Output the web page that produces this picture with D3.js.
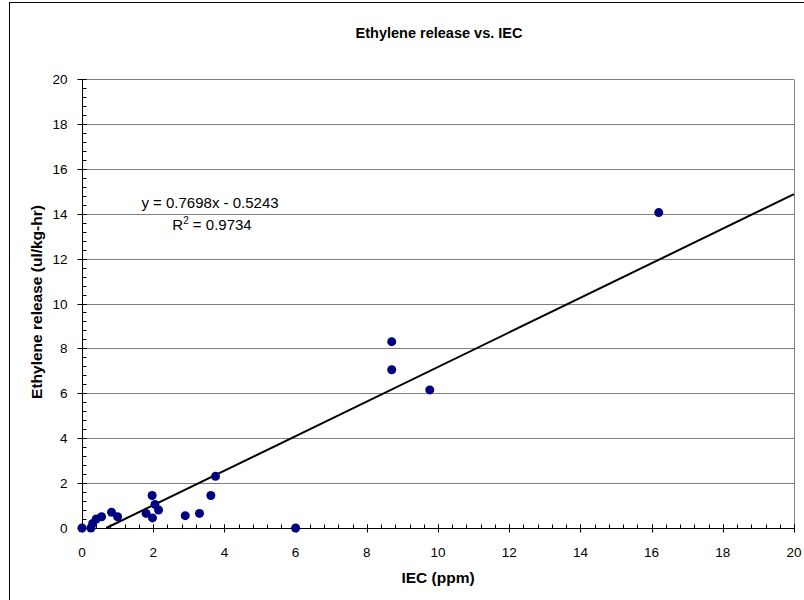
<!DOCTYPE html>
<html>
<head>
<meta charset="utf-8">
<script src="https://cdn.jsdelivr.net/npm/d3@7"></script>
<style>
  body { margin: 0; background: #fff; }
  text { font-family: Arial, "Liberation Sans", sans-serif; }
</style>
</head>
<body>
<div id="chart"></div>
<script>
// IEC (ppm) vs ethylene release (ul/kg-hr)
const iecValues = [0, 0.25, 0.3, 0.4, 0.55, 0.83, 1.0, 1.8, 1.97, 2.05, 1.98, 2.15, 2.9, 3.3, 3.62, 3.75, 6.0, 8.7, 8.7, 9.77, 16.2];
const ethyleneValues = [0, 0, 0.2, 0.4, 0.5, 0.7, 0.5, 0.65, 1.45, 1.05, 0.45, 0.8, 0.55, 0.65, 1.45, 2.3, 0, 8.3, 7.05, 6.15, 14.05];
const xTicks = [0, 2, 4, 6, 8, 10, 12, 14, 16, 18, 20];
const yTicks = [0, 2, 4, 6, 8, 10, 12, 14, 16, 18, 20];
const trendSlope = 0.7698;
const trendIntercept = -0.5243;
const r2 = '0.9734';

const drawChart = () => {
  let width = 804;
  let height = 600;
  let margin = { top: 79, left: 82, right: 10, bottom: 72 };

  let svg = d3
    .select('#chart')
    .append('svg')
    .attr('width', width)
    .attr('height', height);

  // outer chart frame
  svg
    .append('rect')
    .attr('x', 9.5)
    .attr('y', 2.5)
    .attr('width', 820)
    .attr('height', 620)
    .attr('fill', 'white')
    .attr('stroke', 'black')
    .attr('stroke-width', 1);

  let x = d3.scaleLinear().domain([0, 20]).range([margin.left, width - margin.right]);
  let y = d3.scaleLinear().domain([0, 20]).range([height - margin.bottom, margin.top]);

  // gridlines
  svg
    .selectAll('.grid')
    .data(yTicks.filter((d) => d > 0))
    .enter()
    .append('line')
    .attr('class', 'grid')
    .attr('x1', x(0))
    .attr('x2', x(20))
    .attr('y1', (d) => Math.round(y(d)) + 0.5)
    .attr('y2', (d) => Math.round(y(d)) + 0.5)
    .attr('stroke', '#808080');

  // plot area right border
  svg
    .append('line')
    .attr('x1', Math.round(x(20)) + 0.5)
    .attr('x2', Math.round(x(20)) + 0.5)
    .attr('y1', Math.round(y(20)) + 0.5)
    .attr('y2', Math.round(y(0)) + 0.5)
    .attr('stroke', '#808080');

  // minor ticks every 0.4
  let minor = d3.range(0, 20.001, 0.4).map((d) => +d.toFixed(1));

  let xAxis = svg.append('g').attr('transform', `translate(0,${Math.round(y(0)) + 0.5})`);
  xAxis
    .append('line')
    .attr('x1', x(0))
    .attr('x2', x(20))
    .attr('stroke', 'black');
  xAxis
    .selectAll('.xminor')
    .data(minor)
    .enter()
    .append('line')
    .attr('x1', (d) => Math.round(x(d)) + 0.5)
    .attr('x2', (d) => Math.round(x(d)) + 0.5)
    .attr('y1', -4)
    .attr('y2', 0)
    .attr('stroke', 'black');
  xAxis
    .selectAll('.xmajor')
    .data(xTicks)
    .enter()
    .append('line')
    .attr('x1', (d) => Math.round(x(d)) + 0.5)
    .attr('x2', (d) => Math.round(x(d)) + 0.5)
    .attr('y1', -4)
    .attr('y2', 4)
    .attr('stroke', 'black');
  xAxis
    .selectAll('.xlabel')
    .data(xTicks)
    .enter()
    .append('text')
    .attr('x', (d) => x(d))
    .attr('y', 28)
    .attr('text-anchor', 'middle')
    .attr('font-size', 13.5)
    .text((d) => d);

  let yAxis = svg.append('g').attr('transform', `translate(${Math.round(x(0)) + 0.5},0)`);
  yAxis
    .append('line')
    .attr('y1', y(0))
    .attr('y2', y(20))
    .attr('stroke', 'black');
  yAxis
    .selectAll('.yminor')
    .data(minor)
    .enter()
    .append('line')
    .attr('y1', (d) => Math.round(y(d)) + 0.5)
    .attr('y2', (d) => Math.round(y(d)) + 0.5)
    .attr('x1', 0)
    .attr('x2', 4)
    .attr('stroke', 'black');
  yAxis
    .selectAll('.ymajor')
    .data(yTicks)
    .enter()
    .append('line')
    .attr('y1', (d) => Math.round(y(d)) + 0.5)
    .attr('y2', (d) => Math.round(y(d)) + 0.5)
    .attr('x1', -5)
    .attr('x2', 4)
    .attr('stroke', 'black');
  yAxis
    .selectAll('.ylabel')
    .data(yTicks)
    .enter()
    .append('text')
    .attr('x', -15)
    .attr('y', (d) => y(d) + 5)
    .attr('text-anchor', 'end')
    .attr('font-size', 13.5)
    .text((d) => d);

  // trend line from x-intercept to the right edge
  let x0 = -trendIntercept / trendSlope;
  let trend = [x0, 20].map((v) => [v, trendSlope * v + trendIntercept]);
  svg
    .append('path')
    .datum(trend)
    .attr('d', d3.line().x((d) => x(d[0])).y((d) => y(d[1])))
    .attr('stroke', 'black')
    .attr('stroke-width', 2)
    .attr('fill', 'none');

  // points
  let points = iecValues.map((v, i) => ({ iec: v, eth: ethyleneValues[i] }));
  svg
    .selectAll('.dot')
    .data(points)
    .enter()
    .append('circle')
    .attr('class', 'dot')
    .attr('cx', (d) => x(d.iec))
    .attr('cy', (d) => y(d.eth))
    .attr('r', 4.5)
    .attr('fill', '#000080');

  // trendline equation
  svg
    .append('text')
    .attr('x', 210)
    .attr('y', 208)
    .attr('text-anchor', 'middle')
    .attr('font-size', 15)
    .text(`y = ${trendSlope}x - ${Math.abs(trendIntercept)}`);
  let rText = svg
    .append('text')
    .attr('x', 212)
    .attr('y', 230)
    .attr('text-anchor', 'middle')
    .attr('font-size', 15);
  rText.append('tspan').text('R');
  rText.append('tspan').attr('font-size', 10).attr('dy', -6).text('2');
  rText.append('tspan').attr('dy', 6).text(` = ${r2}`);

  // titles
  svg
    .append('text')
    .attr('x', 439)
    .attr('y', 38)
    .attr('text-anchor', 'middle')
    .attr('font-size', 14.5)
    .attr('font-weight', 'bold')
    .text('Ethylene release vs. IEC');

  svg
    .append('text')
    .attr('x', 438)
    .attr('y', 583)
    .attr('text-anchor', 'middle')
    .attr('font-size', 15.5)
    .attr('font-weight', 'bold')
    .text('IEC (ppm)');

  svg
    .append('text')
    .attr('transform', `translate(42,302) rotate(-90)`)
    .attr('text-anchor', 'middle')
    .attr('font-size', 15.5)
    .attr('font-weight', 'bold')
    .text('Ethylene release (ul/kg-hr)');
};

drawChart();
</script>
</body>
</html>
